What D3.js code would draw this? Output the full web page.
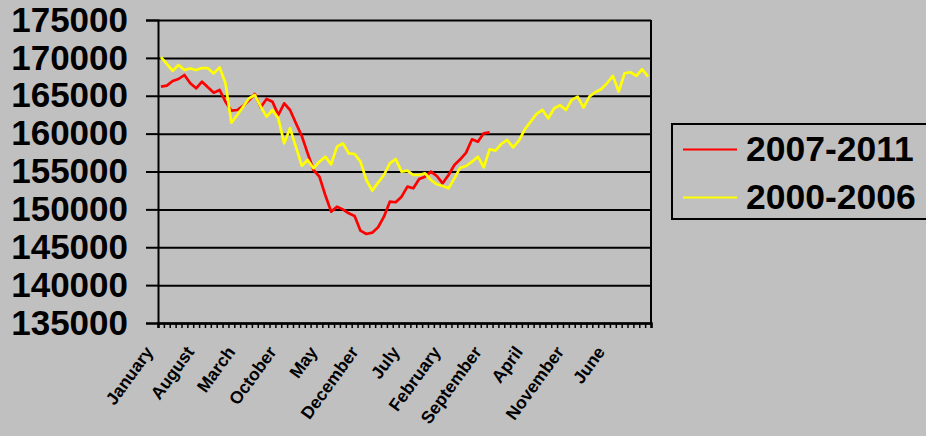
<!DOCTYPE html>
<html>
<head>
<meta charset="utf-8">
<script src="https://cdn.jsdelivr.net/npm/d3@7"></script>
<style>
  body { margin: 0; background: #c0c0c0; }
  svg { display: block; font-family: 'Liberation Sans', Arial, sans-serif; font-weight: bold; }
</style>
</head>
<body>
<div id="chart"></div>
<script>
// chart data
var months = ['January', 'February', 'March', 'April', 'May', 'June', 'July',
  'August', 'September', 'October', 'November', 'December'];
var years = [2000, 2001, 2002, 2003, 2004, 2005, 2006];
var seriesNames = ['2007-2011', '2000-2006'];
var seriesColors = ['#ff0000', '#ffff00'];
var yTicks = [135000, 140000, 145000, 150000, 155000, 160000, 165000, 170000, 175000];

var red2007 = [
  166200, 166330, 166950, 167210, 167740, 166640, 165980, 166860, 166110, 165400,
  165760, 164220, 163030, 163120, 163650, 164400, 165230, 163480, 164570, 164220,
  162460, 164000, 163120, 161360, 159690, 157400, 155200, 154320, 151900, 149700,
  150350, 150000, 149480, 149130, 147190, 146750, 146930, 147640, 149040, 151020,
  150940, 151680, 153000, 152780, 154000, 154320, 154980, 154410, 153440, 154540,
  155860, 156610, 157490, 159250, 158940, 160040, 160170
];

var yellow2000 = [
  170100, 169200, 168300, 169060, 168400, 168600, 168400, 168660, 168640, 167950,
  168750, 166640, 161450, 162460, 163560, 164660, 165100, 163560, 162240, 163120,
  162020, 158720, 160700, 158240, 155770, 156520, 155420, 156300, 156960, 155950,
  158280, 158720, 157400, 157310, 156300, 153880, 152470, 153530, 154540, 156080,
  156650, 154980, 155110, 154540, 154540, 154760, 153880, 153310, 153090, 152780,
  154100, 155500, 155730, 156300, 156960, 155560, 157930, 157750, 158630, 159160,
  158190, 159070, 160570, 161580, 162600, 163130, 162020, 163350, 163750, 163130,
  164450, 164890, 163440, 164890, 165460, 165860, 166650, 167620, 165550, 167970,
  168100, 167620, 168500, 167530
];

// one category per month, label every 7th
var categories = [];
years.forEach(function (yr) {
  months.forEach(function (m) {
    categories.push(m);
  });
});
var labelEvery = 7;

var svgWidth = 926;
var svgHeight = 436;

var margin = { top: 20, right: 275, bottom: 113, left: 158 };
var width = 651 - margin.left;
var height = 323 - margin.top;

var svg = d3
  .select('#chart')
  .append('svg')
  .attr('width', svgWidth)
  .attr('height', svgHeight);

svg.append('rect')
  .attr('width', svgWidth)
  .attr('height', svgHeight)
  .attr('fill', '#c0c0c0');

var chartGroup = svg
  .append('g')
  .attr('transform', `translate(${margin.left}, ${margin.top})`);

// scales
var x = d3.scaleBand()
  .domain(d3.range(categories.length))
  .range([0, width])
  .padding(0);

var xEdge = d3.scaleLinear()
  .domain([0, categories.length])
  .range([0, width]);

var y = d3.scaleLinear()
  .domain([135000, 175000])
  .range([height, 0]);

// horizontal gridlines
chartGroup.append('g')
  .attr('class', 'grid')
  .call(d3.axisLeft(y).tickValues(yTicks).tickSize(-width).tickFormat(''))
  .call(function (g) {
    g.select('.domain').remove();
    g.selectAll('line').attr('stroke', '#000').attr('stroke-width', 2);
  });

// right border of the plot
chartGroup.append('line')
  .attr('x1', width).attr('x2', width)
  .attr('y1', 0).attr('y2', height)
  .attr('stroke', '#000')
  .attr('stroke-width', 2);

// y axis
chartGroup.append('g')
  .call(d3.axisLeft(y).tickValues(yTicks).tickSize(12).tickPadding(18).tickFormat(d3.format('d')))
  .call(function (g) {
    g.select('.domain').attr('stroke', '#000').attr('stroke-width', 2);
    g.selectAll('line').attr('stroke', '#000').attr('stroke-width', 2);
    g.selectAll('text')
      .attr('fill', '#000')
      .style('font-size', '35px')
      .style('font-weight', 'bold');
  });

// x axis tick marks between categories
chartGroup.append('g')
  .attr('transform', `translate(0, ${height})`)
  .call(d3.axisBottom(xEdge).tickValues(d3.range(categories.length + 1)).tickSize(5).tickFormat(''))
  .call(function (g) {
    g.select('.domain').attr('stroke', '#000').attr('stroke-width', 2.5);
    g.selectAll('line').attr('stroke', '#000').attr('stroke-width', 1.5);
  });

// x axis month labels
var labelIdx = d3.range(0, categories.length, labelEvery);
chartGroup.append('g')
  .attr('transform', `translate(0, ${height})`)
  .call(d3.axisBottom(x).tickValues(labelIdx).tickSize(0).tickFormat(function (i) { return categories[i]; }))
  .call(function (g) {
    g.select('.domain').remove();
    g.selectAll('text')
      .attr('fill', '#000')
      .attr('y', 0)
      .attr('dy', 0)
      .attr('text-anchor', 'end')
      .attr('transform', 'translate(-7, 29) rotate(-54)')
      .style('font-size', '17.5px')
      .style('font-weight', 'bold');
  });

// lines
var line = d3.line()
  .x(function (d, i) { return x(i) + x.bandwidth() / 2; })
  .y(function (d) { return y(d); });

[red2007, yellow2000].forEach(function (s, k) {
  chartGroup.append('path')
    .datum(s)
    .attr('fill', 'none')
    .attr('stroke', seriesColors[k])
    .attr('stroke-width', 2.7)
    .attr('stroke-linejoin', 'round')
    .attr('d', line);
});

// legend
var legend = svg.append('g').attr('transform', 'translate(672, 124)');
legend.append('rect')
  .attr('x', 0).attr('y', 0)
  .attr('width', 270).attr('height', 95)
  .attr('fill', '#c0c0c0')
  .attr('stroke', '#000')
  .attr('stroke-width', 2);

seriesNames.forEach(function (name, k) {
  var row = legend.append('g').attr('transform', `translate(0, ${25.5 + k * 48})`);
  row.append('line')
    .attr('x1', 11).attr('x2', 65)
    .attr('y1', 0).attr('y2', 0)
    .attr('stroke', seriesColors[k])
    .attr('stroke-width', 2);
  row.append('text')
    .attr('x', 74)
    .attr('y', 11.5)
    .attr('fill', '#000')
    .style('font-size', '35.5px')
    .style('font-weight', 'bold')
    .text(name);
});
</script>
</body>
</html>
